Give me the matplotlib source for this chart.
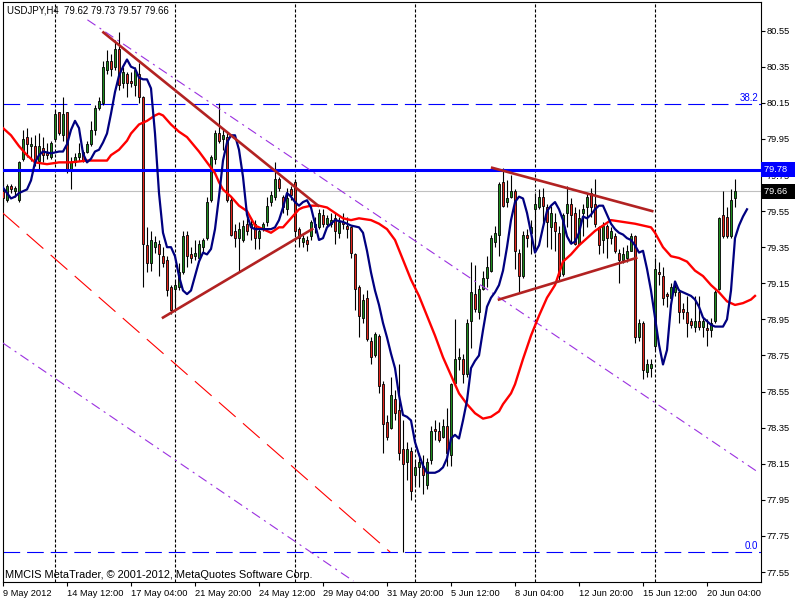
import matplotlib
matplotlib.use("Agg")
import matplotlib.pyplot as plt
from matplotlib.transforms import blended_transform_factory

plt.rcParams['font.family'] = 'Liberation Sans'
plt.rcParams['lines.scale_dashes'] = False

# USDJPY H4 candles, bar 0 = 9 May 2012 20:00
opens = [
    79.66, 79.61, 79.69, 79.66, 79.61, 79.84, 79.96, 79.91, 79.91, 79.83,
    79.90, 79.87, 79.85, 79.95, 80.10, 79.97, 80.10, 79.78, 79.82, 79.85,
    79.88, 79.88, 79.92, 80.00, 80.12, 80.15, 80.33, 80.38, 80.35, 80.45,
    80.26, 80.31, 80.27, 80.25, 80.31, 80.18, 79.36, 79.26, 79.35, 79.37,
    79.30, 79.28, 79.13, 79.12, 79.13, 79.21, 79.42, 79.31, 79.30, 79.29,
    79.35, 79.40, 79.61, 79.84, 79.98, 79.95, 79.96, 79.61, 79.44, 79.40,
    79.39, 79.48, 79.46, 79.48, 79.40, 79.45, 79.49, 79.60, 79.63, 79.73,
    79.63, 79.56, 79.67, 79.71, 79.45, 79.38, 79.39, 79.41, 79.46, 79.46,
    79.53, 79.48, 79.48, 79.51, 79.43, 79.49, 79.47, 79.46, 79.31, 79.13,
    78.96, 79.07, 78.83, 78.75, 78.86, 78.59, 78.38, 78.35, 78.51, 78.45,
    78.23, 78.16, 78.22, 78.09, 78.13, 78.14, 78.03, 78.17, 78.34, 78.33,
    78.30, 78.36, 78.20, 78.60, 78.73, 78.73, 78.65, 78.94, 79.09, 78.99,
    79.12, 79.18, 79.22, 79.38, 79.42, 79.71, 79.60, 79.63, 79.66, 79.32,
    79.19, 79.42, 79.43, 79.56, 79.57, 79.63, 79.57, 79.46, 79.49, 79.43,
    79.20, 79.54, 79.59, 79.54, 79.37, 79.54, 79.57, 79.65, 79.59, 79.46,
    79.39, 79.47, 79.40, 79.41, 79.32, 79.28, 79.29, 79.33, 79.41, 78.85,
    78.93, 78.66, 78.68, 78.80, 79.21, 79.19, 79.09, 79.07, 79.10, 79.10,
    79.01, 78.99, 78.94, 78.91, 78.94, 78.91, 78.90, 78.89, 78.94, 79.12,
    79.53, 79.52, 79.41, 79.62]
highs = [
    79.72, 79.70, 79.70, 79.69, 79.83, 80.00, 80.01, 79.96, 79.97, 79.98,
    79.96, 79.93, 79.94, 80.11, 80.10, 80.18, 80.10, 79.85, 79.87, 79.93,
    79.89, 79.94, 80.05, 80.14, 80.18, 80.38, 80.44, 80.42, 80.50, 80.54,
    80.35, 80.32, 80.32, 80.35, 80.37, 80.19, 79.46, 79.44, 79.41, 79.39,
    79.35, 79.30, 79.14, 79.16, 79.26, 79.44, 79.44, 79.35, 79.39, 79.39,
    79.40, 79.63, 79.86, 80.00, 80.15, 80.01, 79.99, 79.63, 79.48, 79.49,
    79.50, 79.53, 79.51, 79.50, 79.46, 79.49, 79.63, 79.66, 79.82, 79.74,
    79.64, 79.68, 79.69, 79.72, 79.46, 79.42, 79.41, 79.50, 79.52, 79.56,
    79.56, 79.53, 79.54, 79.54, 79.52, 79.54, 79.52, 79.47, 79.32, 79.14,
    79.09, 79.11, 78.85, 78.88, 78.87, 78.61, 78.42, 78.63, 78.56, 78.70,
    78.39, 78.27, 78.24, 78.17, 78.21, 78.20, 78.18, 78.36, 78.39, 78.38,
    78.40, 78.46, 78.60, 78.95, 78.79, 78.76, 78.95, 79.27, 79.25, 79.14,
    79.22, 79.30, 79.42, 79.47, 79.71, 79.79, 79.72, 79.75, 79.67, 79.34,
    79.44, 79.45, 79.50, 79.65, 79.67, 79.68, 79.59, 79.58, 79.54, 79.47,
    79.54, 79.69, 79.62, 79.57, 79.56, 79.59, 79.65, 79.68, 79.73, 79.47,
    79.49, 79.48, 79.46, 79.43, 79.34, 79.35, 79.36, 79.43, 79.42, 78.95,
    78.94, 78.73, 78.73, 79.29, 79.27, 79.24, 79.10, 79.15, 79.16, 79.12,
    79.04, 79.08, 78.96, 79.08, 79.08, 78.96, 78.95, 78.96, 79.11, 79.52,
    79.66, 79.57, 79.67, 79.73]
lows = [
    79.58, 79.60, 79.65, 79.63, 79.60, 79.83, 79.85, 79.83, 79.80, 79.78,
    79.82, 79.84, 79.84, 79.94, 79.97, 79.94, 79.76, 79.67, 79.80, 79.83,
    79.82, 79.87, 79.91, 79.97, 80.11, 80.14, 80.31, 80.30, 80.33, 80.22,
    80.23, 80.18, 80.24, 80.19, 80.15, 79.13, 79.21, 79.22, 79.32, 79.19,
    79.24, 79.08, 78.98, 79.01, 79.11, 79.20, 79.24, 79.26, 79.28, 79.28,
    79.32, 79.39, 79.60, 79.81, 79.93, 79.89, 79.60, 79.41, 79.35, 79.21,
    79.38, 79.42, 79.39, 79.34, 79.34, 79.44, 79.47, 79.58, 79.61, 79.66,
    79.54, 79.53, 79.61, 79.41, 79.35, 79.35, 79.33, 79.39, 79.43, 79.45,
    79.46, 79.47, 79.46, 79.37, 79.40, 79.45, 79.40, 79.29, 79.00, 78.85,
    78.93, 78.83, 78.70, 78.74, 78.54, 78.21, 78.28, 78.34, 78.39, 78.17,
    77.66, 78.06, 77.95, 78.03, 78.02, 77.98, 78.01, 78.15, 78.28, 78.27,
    78.29, 78.14, 78.14, 78.58, 78.67, 78.60, 78.63, 78.79, 78.99, 78.95,
    79.11, 79.13, 79.21, 79.35, 79.30, 79.57, 79.57, 79.62, 79.23, 79.10,
    79.18, 79.35, 79.31, 79.34, 79.56, 79.48, 79.35, 79.34, 79.33, 79.17,
    79.19, 79.46, 79.37, 79.36, 79.36, 79.41, 79.46, 79.52, 79.46, 79.31,
    79.32, 79.29, 79.37, 79.32, 79.15, 79.26, 79.27, 79.33, 78.82, 78.83,
    78.62, 78.63, 78.63, 78.78, 79.14, 79.03, 79.02, 79.06, 79.08, 78.93,
    78.95, 78.85, 78.90, 78.88, 78.89, 78.85, 78.80, 78.85, 78.93, 79.11,
    79.40, 79.40, 79.40, 79.57]
closes = [
    79.62, 79.69, 79.67, 79.68, 79.82, 79.95, 79.92, 79.92, 79.83, 79.91,
    79.86, 79.86, 79.93, 80.09, 79.98, 80.09, 79.77, 79.82, 79.85, 79.87,
    79.83, 79.92, 80.00, 80.12, 80.16, 80.35, 80.38, 80.34, 80.45, 80.25,
    80.32, 80.26, 80.26, 80.33, 80.18, 79.37, 79.26, 79.39, 79.38, 79.31,
    79.26, 79.11, 79.00, 79.14, 79.21, 79.41, 79.30, 79.29, 79.32, 79.37,
    79.39, 79.60, 79.85, 79.98, 79.94, 79.97, 79.61, 79.42, 79.40, 79.45,
    79.47, 79.44, 79.48, 79.40, 79.44, 79.48, 79.58, 79.64, 79.73, 79.68,
    79.57, 79.62, 79.64, 79.44, 79.40, 79.40, 79.37, 79.49, 79.48, 79.54,
    79.48, 79.51, 79.50, 79.44, 79.49, 79.48, 79.45, 79.32, 79.12, 78.97,
    79.06, 78.84, 78.74, 78.87, 78.58, 78.37, 78.30, 78.53, 78.43, 78.21,
    78.15, 78.23, 78.00, 78.13, 78.16, 78.09, 78.16, 78.33, 78.33, 78.28,
    78.36, 78.21, 78.59, 78.73, 78.74, 78.65, 78.93, 79.10, 79.01, 79.12,
    79.18, 79.24, 79.40, 79.43, 79.70, 79.58, 79.62, 79.66, 79.33, 79.19,
    79.42, 79.40, 79.46, 79.59, 79.63, 79.58, 79.49, 79.54, 79.44, 79.19,
    79.53, 79.59, 79.53, 79.37, 79.51, 79.56, 79.63, 79.57, 79.48, 79.36,
    79.47, 79.40, 79.44, 79.33, 79.28, 79.31, 79.33, 79.41, 78.85, 78.93,
    78.67, 78.70, 78.70, 79.23, 79.20, 79.07, 79.08, 79.13, 79.13, 78.99,
    78.99, 78.93, 78.92, 78.94, 78.91, 78.94, 78.89, 78.93, 79.10, 79.51,
    79.41, 79.41, 79.61, 79.66]

# fast moving average (navy), shifted forward
fast_bar = list(range(0, 11)) + [12] + list(range(14, 84)) + [85, 87] + list(range(89, 187))
fast_ma = [
    79.68, 79.65, 79.62, 79.63, 79.65, 79.66, 79.67, 79.72, 79.82, 79.86, 79.88,
    79.87,
    79.88, 79.88, 79.92, 80.00, 80.05, 80.01, 79.87, 79.82, 79.84, 79.88,
    79.89, 79.93, 79.98, 80.09, 80.21, 80.30, 80.35, 80.39, 80.35, 80.34,
    80.29, 80.28, 80.28, 80.23, 79.98, 79.65, 79.43, 79.35, 79.35, 79.30,
    79.19, 79.11, 79.09, 79.11, 79.19, 79.27, 79.32, 79.31, 79.34, 79.45,
    79.63, 79.83, 79.93, 79.97, 79.97, 79.89, 79.74, 79.53, 79.46, 79.45,
    79.45, 79.45, 79.45, 79.45, 79.46, 79.50, 79.57, 79.65, 79.63, 79.60,
    79.58, 79.60, 79.61, 79.57, 79.48, 79.39, 79.40, 79.46, 79.48, 79.50,
    79.49, 79.47,
    79.46, 79.43, 79.33, 79.21, 79.11, 79.03, 78.93, 78.85, 78.76, 78.68,
    78.53, 78.42, 78.41, 78.39, 78.27, 78.20, 78.14, 78.10, 78.10, 78.10,
    78.11, 78.13, 78.18, 78.29, 78.31, 78.29, 78.39, 78.50, 78.68, 78.72,
    78.75, 78.89, 79.02, 79.07, 79.10, 79.14, 79.22, 79.35, 79.50, 79.60,
    79.63, 79.62, 79.54, 79.43, 79.32, 79.36, 79.46, 79.55, 79.58, 79.60,
    79.56, 79.50, 79.41, 79.37, 79.38, 79.43, 79.52, 79.51, 79.53, 79.56,
    79.58, 79.58, 79.53, 79.48, 79.45, 79.43, 79.42, 79.40, 79.39, 79.36,
    79.32, 79.33, 79.23, 79.11, 78.96, 78.81, 78.70, 78.78, 79.03, 79.16,
    79.11, 79.10, 79.09, 79.08, 79.06, 79.02, 78.96, 78.94, 78.92, 78.91,
    78.91, 78.91, 78.95, 79.11, 79.40, 79.47, 79.52, 79.56]

# slow moving average (red), shifted forward
slow_bar = [0, 2, 4, 6, 8, 11, 14, 17, 21, 26, 27, 29, 31, 32, 34, 36, 38, 39, 40, 42,
            44, 46, 49, 51, 53, 54, 55, 57, 59, 61, 62, 63, 65, 67, 69, 70, 72, 74, 75, 77,
            79, 81, 83, 85, 87, 89, 92, 94, 96, 98, 100, 102, 104, 106, 108, 110, 112, 114,
            116, 118, 120, 122, 124, 125, 127, 128, 130, 132, 134, 136, 138, 140, 142, 144,
            146, 148, 150, 152, 155, 158, 160, 162, 163, 165, 167, 169, 171, 173, 175, 177,
            179, 181, 183, 185, 187, 188]
slow_ma = [80.01, 79.97, 79.91, 79.86, 79.82, 79.81, 79.82, 79.82, 79.83, 79.83,
           79.86, 79.89, 79.94, 79.98, 80.03, 80.05, 80.08, 80.09, 80.08, 80.03,
           79.99, 79.96, 79.88, 79.82, 79.76, 79.71, 79.67, 79.63, 79.58, 79.55,
           79.51, 79.47, 79.45, 79.43, 79.46, 79.46, 79.51, 79.56, 79.57, 79.58,
           79.58, 79.57, 79.54, 79.51, 79.50, 79.51, 79.50, 79.48, 79.45, 79.39,
           79.28, 79.17, 79.08, 78.97, 78.86, 78.74, 78.64, 78.54, 78.48, 78.43,
           78.40, 78.41, 78.44, 78.48, 78.54, 78.59, 78.73, 78.86, 78.97, 79.07,
           79.14, 79.27, 79.31, 79.36, 79.40, 79.44, 79.47, 79.50, 79.49, 79.48,
           79.47, 79.46, 79.43, 79.35, 79.30, 79.29, 79.27, 79.22, 79.19, 79.14,
           79.10, 79.05, 79.03, 79.04, 79.06, 79.08]

# drawn objects (bar, price)
trend_start = [(25.1, 80.54), (40.0, 78.96), (122.3, 79.79), (124.0, 79.06)]
trend_end = [(78.8, 79.58), (77.3, 79.45), (162.3, 79.55), (158.3, 79.29)]
channel_start = [(21.1, 80.61), (-0.1, 78.82)]
channel_end = [(189.0, 78.10), (87.6, 77.50)]
red_ray = [(-0.1, 79.54), (96.8, 77.66)]
fibo_levels = [80.144, 77.661]
fibo_names = ["38.2", "0.0"]
hline_price = 79.78
bid_price = 79.66
week_bars = [13, 43, 73, 103, 133, 163]

time_bars = [0, 16, 32, 48, 64, 80, 96, 112, 128, 144, 160, 176]
time_labels = ["9 May 2012", "14 May 12:00", "17 May 04:00", "21 May 20:00",
               "24 May 12:00", "29 May 04:00", "31 May 20:00", "5 Jun 12:00",
               "8 Jun 04:00", "12 Jun 20:00", "15 Jun 12:00", "20 Jun 04:00"]
price_ticks = [77.55, 77.75, 77.95, 78.15, 78.35, 78.55, 78.75, 78.95,
               79.15, 79.35, 79.55, 79.75, 79.95, 80.15, 80.35, 80.55]

fs = 6.7

fig = plt.figure(figsize=(8, 6), dpi=100)
ax = fig.add_axes([2.5 / 800, 17.7 / 600, 758 / 800, 580 / 600])
ax.set_xlim(-0.125, 189.375)
ax.set_ylim(77.493, 80.707)

for b in week_bars:
    ax.axvline(b, color='black', lw=0.8, dashes=(2.2, 1.4), zorder=1)

for lv in fibo_levels:
    ax.axhline(lv, color='#0000FF', lw=0.8, dashes=(12, 5), zorder=1)
ax.axhline(bid_price, color='#C0C0C0', lw=0.8, zorder=1)

# candles
bars = list(range(len(closes)))
ax.vlines(bars, lows, highs, color='black', lw=0.8, zorder=3)
body_low = [min(o, c) for o, c in zip(opens, closes)]
body_h = [abs(c - o) for o, c in zip(opens, closes)]
colors = ['#1E8C1E' if c >= o else '#E3261C' for o, c in zip(opens, closes)]
ax.bar(bars, body_h, bottom=body_low, width=0.72, color=colors,
       edgecolor='black', linewidth=0.6, zorder=4)

ax.axhline(hline_price, color='#0000FF', lw=2.2, zorder=5)

# channel lines
for s, e in zip(channel_start, channel_end):
    ax.plot([s[0], e[0]], [s[1], e[1]], color='#9B30E0', lw=0.8,
            dashes=(7, 3.5, 1.5, 3.5), zorder=5)
ax.plot([red_ray[0][0], red_ray[1][0]], [red_ray[0][1], red_ray[1][1]],
        color='#FF0000', lw=0.8, dashes=(16, 7), zorder=5)

ax.plot(slow_bar, slow_ma, color='#FF0000', lw=1.7, zorder=6)
ax.plot(fast_bar, fast_ma, color='#000080', lw=1.6, zorder=6)

for s, e in zip(trend_start, trend_end):
    ax.plot([s[0], e[0]], [s[1], e[1]], color='#B22222', lw=1.9, zorder=7)

# fibo captions
for lv, name in zip(fibo_levels, fibo_names):
    ax.text(188.8, lv + 0.006, name, color='#0000FF', fontsize=7,
            ha='right', va='bottom', zorder=8)

# axes style
for sp in ax.spines.values():
    sp.set_linewidth(0.8)
    sp.set_color('black')
ax.yaxis.tick_right()
ax.set_yticks(price_ticks)
ax.set_yticklabels([f"{v:.2f}" for v in price_ticks])
ax.set_xticks(time_bars)
ax.set_xticklabels(time_labels, ha='left')
ax.tick_params(axis='both', length=3, width=0.8, labelsize=fs, color='black')
ax.tick_params(axis='y', pad=1.5)
ax.tick_params(axis='x', pad=1.5)

# price boxes on the scale
tr = blended_transform_factory(ax.transAxes, ax.transData)
ax.text(1.004, hline_price, "79.78  ", transform=tr, color='white', fontsize=fs,
        ha='left', va='center', clip_on=False, zorder=10,
        bbox=dict(boxstyle='square,pad=0.3', fc='#0000FF', ec='none'))
ax.text(1.004, bid_price, "79.66  ", transform=tr, color='white', fontsize=fs,
        ha='left', va='center', clip_on=False, zorder=10,
        bbox=dict(boxstyle='square,pad=0.3', fc='black', ec='none'))

fig.text(7 / 800, 1 - 10.5 / 600, "USDJPY,H4  79.62 79.73 79.57 79.66",
         fontsize=6.9, va='center', ha='left')
fig.text(5 / 800, 1 - 575 / 600, "MMCIS MetaTrader, © 2001-2012, MetaQuotes Software Corp.",
         fontsize=7.9, va='center', ha='left')

fig.savefig("out.png", dpi=100, facecolor='white')
